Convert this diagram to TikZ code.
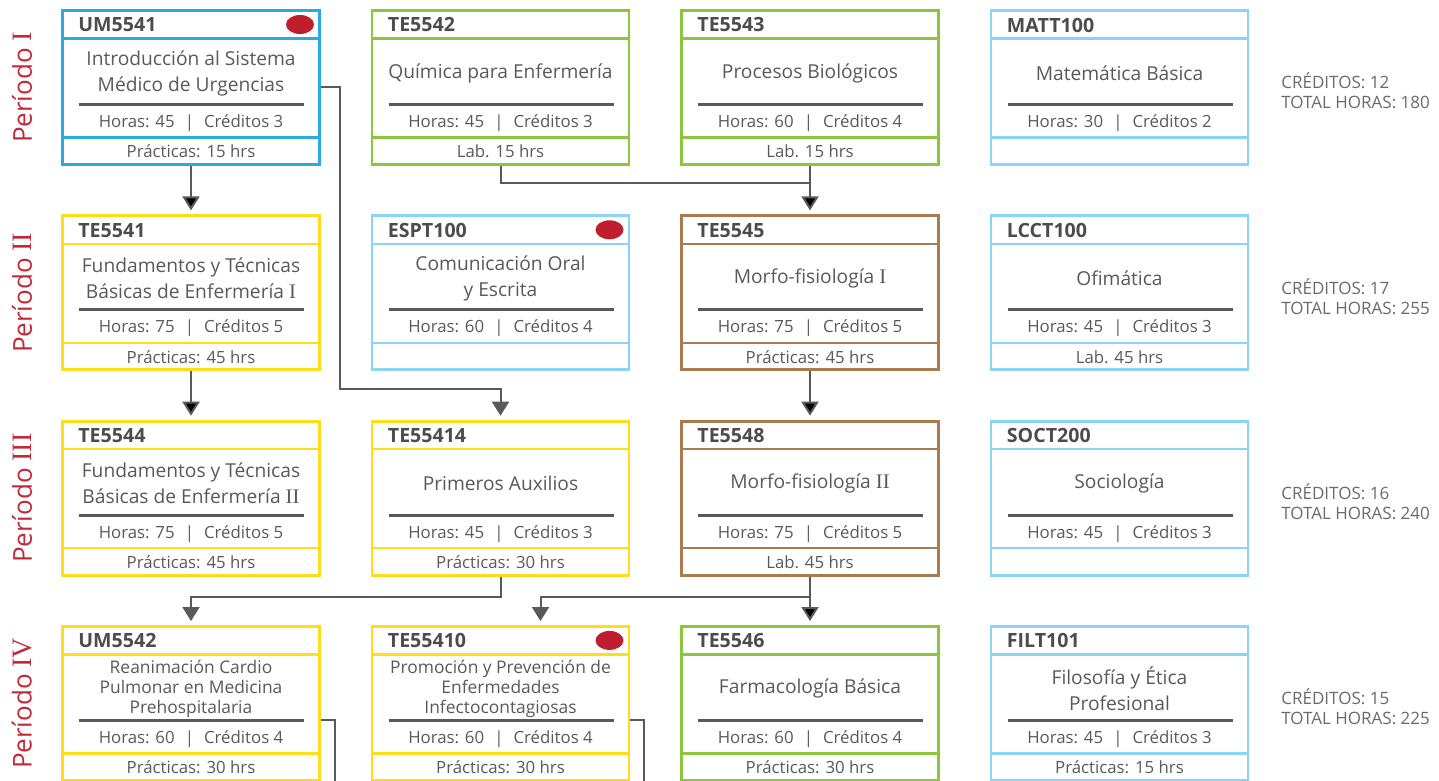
\documentclass[tikz,border=0pt]{standalone}
\usepackage{fontspec}
\setmainfont{Open Sans}
\newfontfamily\romano[Scale=1.08]{Liberation Serif}
\usetikzlibrary{positioning, arrows.meta, calc, shapes.geometric}
\definecolor{azul}{HTML}{29ABE2}
\definecolor{celeste}{HTML}{8AD5F5}
\definecolor{verde}{HTML}{8CC63F}
\definecolor{amarillo}{HTML}{FFDD1A}
\definecolor{cafe}{HTML}{A87C4F}
\definecolor{rojo}{HTML}{BE1E2D}
\definecolor{gris}{HTML}{595959}
\tikzset{
  malla/.style={
	x=0.5pt, y=-0.5pt, % one unit is one pixel of the plan
	on grid, % distances go from centre to centre
	node distance=102.65pt and 154.75pt, % rows and columns
  },
  caja/.style={draw=#1, line width=1.4pt, minimum width=128.5pt, minimum height=77pt, inner sep=0pt}, % frame of a course
  division/.style={draw=#1, line width=1.2pt}, % head and foot lines
  regla/.style={draw=gris, line width=1.5pt}, % dark rule in the body
  clave/.style={font=\fontsize{9.8}{12}\selectfont\bfseries, text=gris!85!black, anchor=west, inner sep=0pt},
  titulo/.style={font=\fontsize{9.6}{13}\selectfont, text=gris, align=center, inner sep=0pt},
  dato/.style={font=\fontsize{8.4}{10}\selectfont, text=gris, inner sep=0pt},
  punto/.style={ellipse, fill=rojo, minimum width=14pt, minimum height=9.5pt, inner sep=0pt},
  periodo/.style={rotate=90, font=\fontsize{13}{15}\selectfont, text=rojo!95!white, inner sep=0pt},
  resumen/.style={anchor=west, align=left, font=\fontsize{8.5}{10}\selectfont, text=gris!90!white, inner sep=0pt},
  linea/.style={draw=gris, line width=1pt},
  flecha/.style={linea, -{Triangle[length=7pt,width=8.5pt]}, shorten >=2pt},
}
\newcommand{\sep}{\hspace{.6em}|\hspace{.6em}}
% #1 name, #2 place, #3 colour, #4 code, #5 title, #6 hours, #7 credits, #8 foot, #9 red dot
\newcommand{\curso}[9]{%
  \node[caja=#3, #2] (#1) {};
  \draw[division=#3] ($(#1.west)+(0,-49)$) -- ($(#1.east)+(0,-49)$)
                     ($(#1.west)+(0,50)$) -- ($(#1.east)+(0,50)$);
  \coordinate (#1-regla) at ($(#1)+(0,17)$);
  \draw[regla] ($(#1-regla)+(-112,0)$) -- ($(#1-regla)+(113,0)$);
  \node[clave] (#1-clave) at ($(#1)+(-113,-62.5)$) {#4};
  \node[titulo] (#1-titulo) at ($(#1)+(0,-14.5)$) {#5};
  \node[dato] (#1-horas) at ($(#1)+(0,35.5)$) {Horas: #6\sep Créditos #7};
  \node[dato] (#1-pie) at ($(#1)+(0,64)$) {#8};
  \ifnum#9=1 \node[punto] (#1-punto) at ($(#1)+(109,-63)$) {};\fi
}

\begin{document}
\begin{tikzpicture}[malla]
  \useasboundingbox (0,0) rectangle (1439,781);

  % Periodo I
  \curso{um5541}{at={(191,87.5)}}{azul}{UM5541}{Introducción al Sistema\\Médico de Urgencias}{45}{3}{Prácticas: 15 hrs}{1}
  \curso{te5542}{right=of um5541}{verde}{TE5542}{Química para Enfermería}{45}{3}{Lab. 15 hrs}{0}
  \curso{te5543}{right=of te5542}{verde}{TE5543}{Procesos Biológicos}{60}{4}{Lab. 15 hrs}{0}
  \curso{matt100}{right=of te5543}{celeste}{MATT100}{Matemática Básica}{30}{2}{}{0}

  % Periodo II
  \curso{te5541}{below=of um5541}{amarillo}{TE5541}{Fundamentos y Técnicas\\Básicas de Enfermería {\romano I}}{75}{5}{Prácticas: 45 hrs}{0}
  \curso{espt100}{right=of te5541}{celeste}{ESPT100}{Comunicación Oral\\y Escrita}{60}{4}{}{1}
  \curso{te5545}{right=of espt100}{cafe}{TE5545}{Morfo-fisiología {\romano I}}{75}{5}{Prácticas: 45 hrs}{0}
  \curso{lcct100}{right=of te5545}{celeste}{LCCT100}{Ofimática}{45}{3}{Lab. 45 hrs}{0}

  % Periodo III
  \curso{te5544}{below=of te5541}{amarillo}{TE5544}{Fundamentos y Técnicas\\Básicas de Enfermería {\romano II}}{75}{5}{Prácticas: 45 hrs}{0}
  \curso{te55414}{right=of te5544}{amarillo}{TE55414}{Primeros Auxilios}{45}{3}{Prácticas: 30 hrs}{0}
  \curso{te5548}{right=of te55414}{cafe}{TE5548}{Morfo-fisiología {\romano II}}{75}{5}{Lab. 45 hrs}{0}
  \curso{soct200}{right=of te5548}{celeste}{SOCT200}{Sociología}{45}{3}{}{0}

  % Periodo IV
  \begin{scope}[titulo/.append style={font=\fontsize{8.7}{10}\selectfont}]
  \curso{um5542}{below=of te5544}{amarillo}{UM5542}{Reanimación Cardio\\Pulmonar en Medicina\\Prehospitalaria}{60}{4}{Prácticas: 30 hrs}{0}
  \curso{te55410}{right=of um5542}{amarillo}{TE55410}{Promoción y Prevención de\\Enfermedades\\Infectocontagiosas}{60}{4}{Prácticas: 30 hrs}{1}
  \end{scope}
  \curso{te5546}{right=of te55410}{verde}{TE5546}{Farmacología Básica}{60}{4}{Prácticas: 30 hrs}{0}
  \curso{filt101}{right=of te5546}{celeste}{FILT101}{Filosofía y Ética\\Profesional}{45}{3}{Prácticas: 15 hrs}{0}

  \foreach \n/\r/\c/\h in {1/I/12/180, 2/II/17/255, 3/III/16/240, 4/IV/15/225}{
    \node[periodo] (periodo\n) at (22,{87.5+(\n-1)*205.3}) {Período {\romano\r}};
    \node[resumen] (resumen\n) at (1281,{91+(\n-1)*205.3}) {CRÉDITOS: \c\\TOTAL HORAS: \h};
  }

  \coordinate (salida1) at (335,800);
  \coordinate (salida2) at (644,800);

  \draw[flecha] (um5541) edge (te5541)
                (te5543) edge (te5545)
                (te5541) edge (te5544)
                (te5545) edge (te5548)
                (te5548) edge (te5546);
  \draw[flecha] (um5541.east) -- ++(19,0) |- ($(te55414.north)+(0,-31)$) -- (te55414.north);
  \draw[linea] (te5542.south) |- ($(te5543.south)+(0,17)$);
  \draw[flecha] (te55414.south) -- ++(0,20) -| (um5542.north);
  \draw[flecha] (te5548.south) -- ++(0,20) -| ($(te55410.north)+(40,0)$);
  \draw[linea] (um5542.east |- um5542-regla) -| (salida1);
  \draw[linea] (te55410.east |- te55410-regla) -| (salida2);
\end{tikzpicture}
\end{document}
